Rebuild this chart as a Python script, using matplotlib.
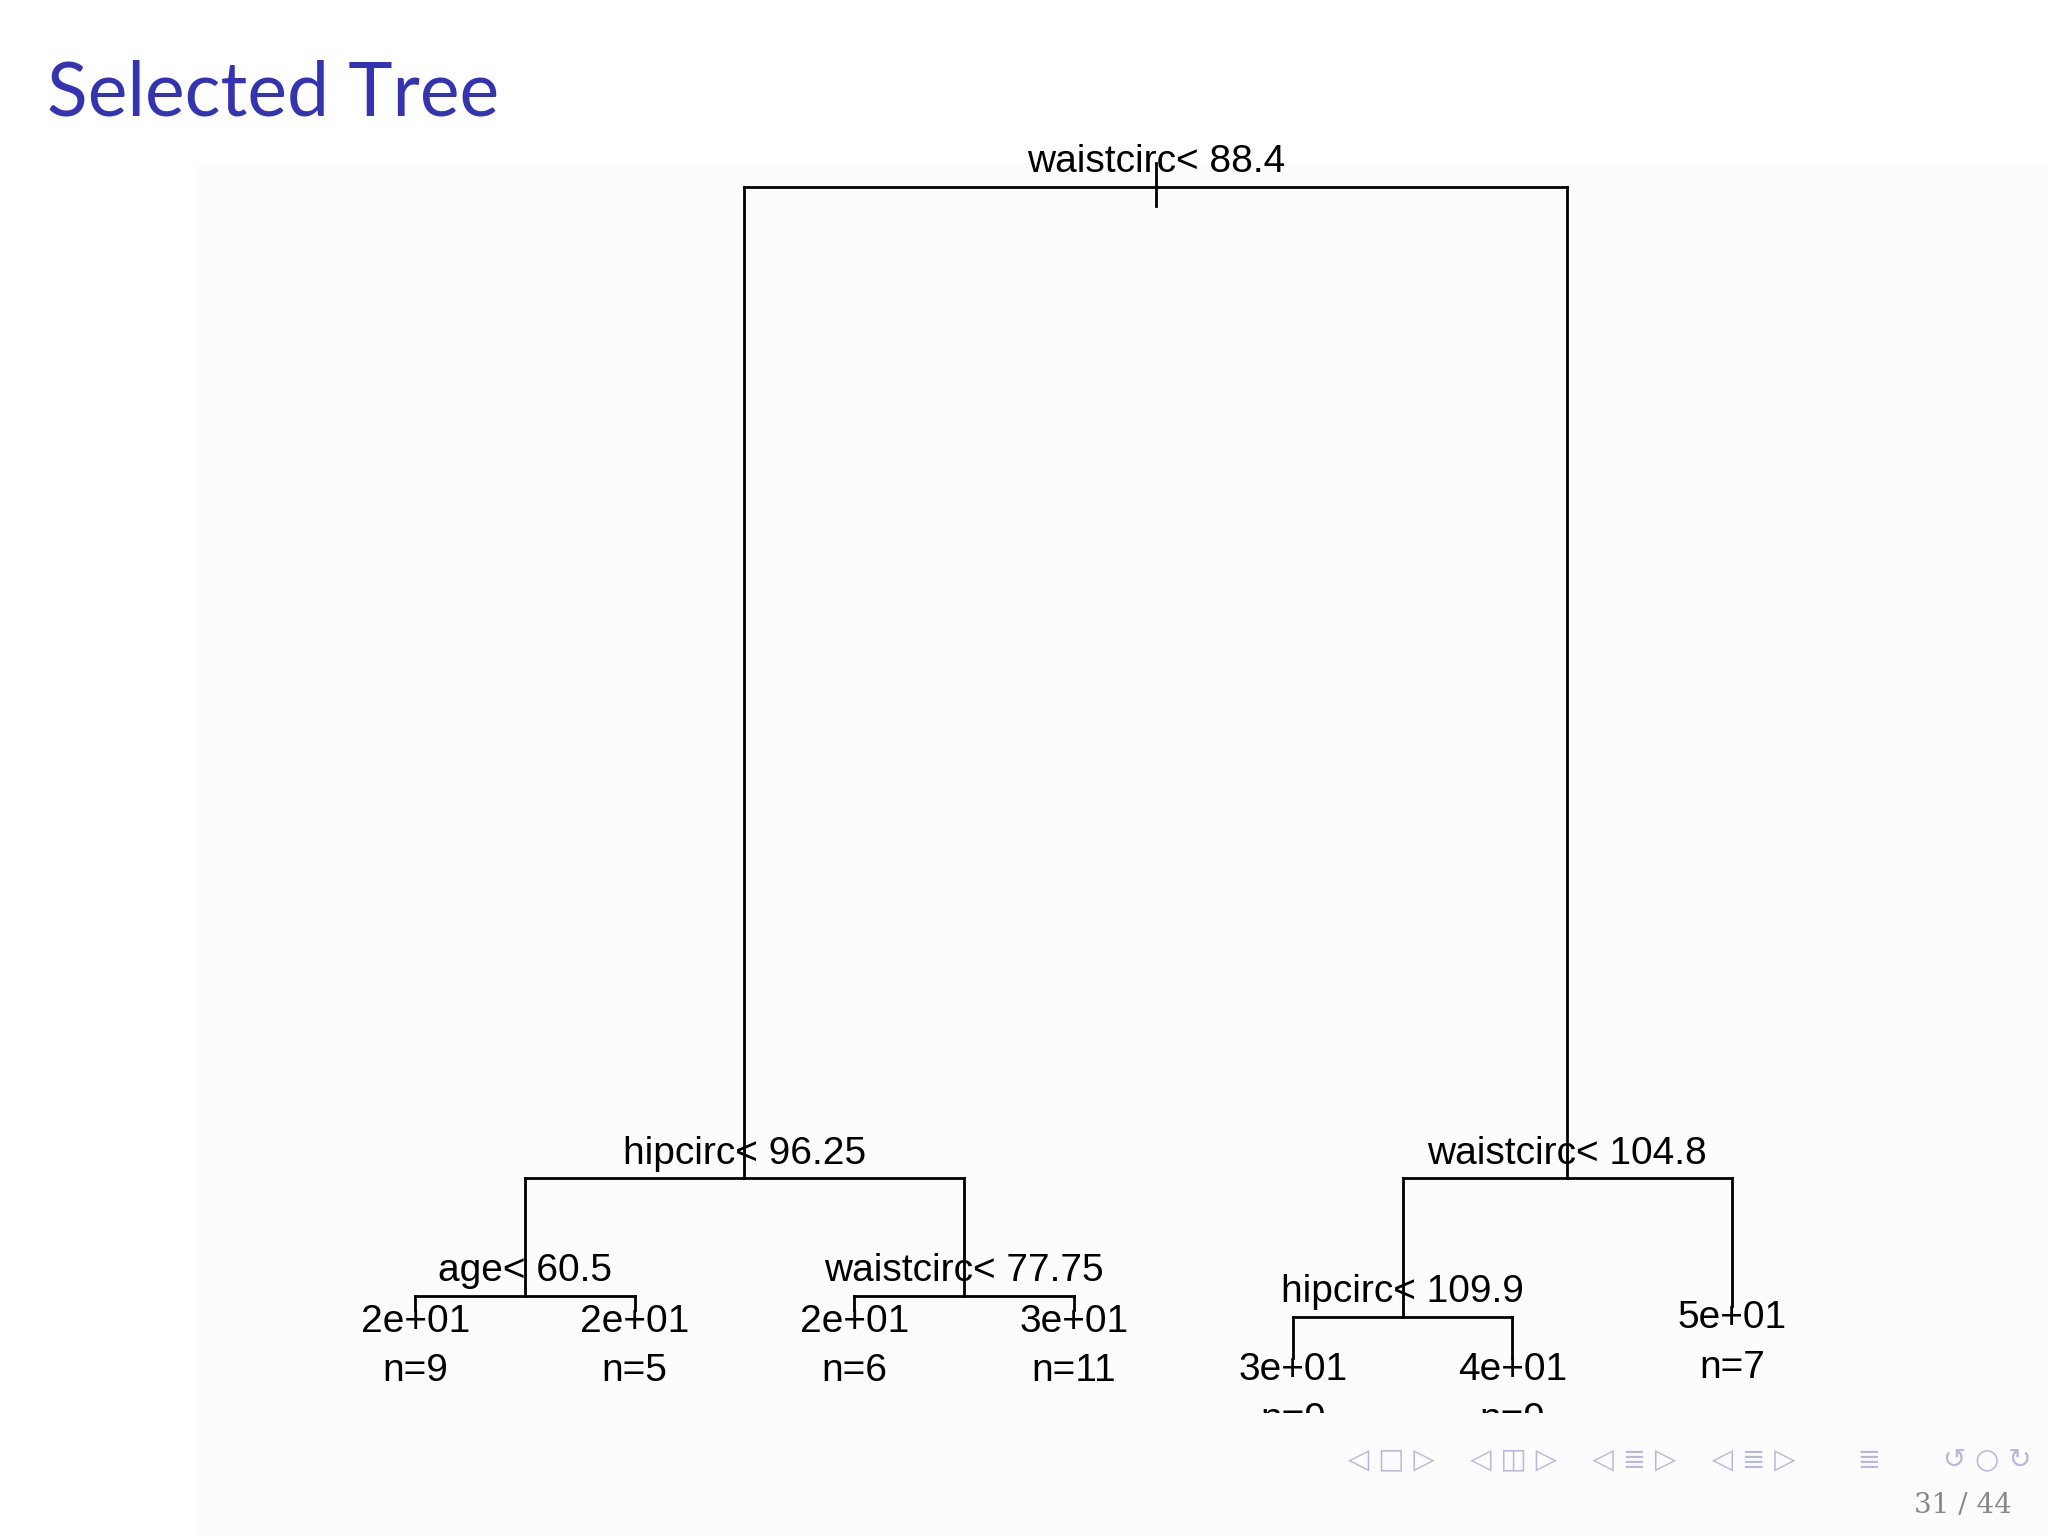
import matplotlib
matplotlib.use("Agg")
import matplotlib.pyplot as plt
from matplotlib.patches import Rectangle

# tree data
split_labels = ["waistcirc< 88.4", "hipcirc< 96.25", "age< 60.5", "waistcirc< 77.75",
                "waistcirc< 104.8", "hipcirc< 109.9"]
leaf_values = ["2e+01", "2e+01", "2e+01", "3e+01", "3e+01", "4e+01", "5e+01"]
leaf_n = ["n=9", "n=5", "n=6", "n=11", "n=9", "n=9", "n=7"]
nodes = {
    "root": ("S0", "A", "B"),
    "A": ("S1", "C", "D"),
    "C": ("S2", "L0", "L1"),
    "D": ("S3", "L2", "L3"),
    "B": ("S4", "E", "L6"),
    "E": ("S5", "L4", "L5"),
}
node_y = {"root": 143, "A": 902, "B": 902, "C": 992, "D": 992, "E": 1008,
          "L0": 1003, "L1": 1003, "L2": 1003, "L3": 1003, "L4": 1040, "L5": 1040, "L6": 1000}

W, H = 1568, 1176
fig = plt.figure(figsize=(20.48, 15.36), dpi=100)
bg = fig.add_axes([0, 0, 1, 1]); bg.set_xlim(0, W); bg.set_ylim(H, 0); bg.axis("off")
bg.add_patch(Rectangle((150, 125), 1418, 1051, color="#fcfcfc", zorder=0))
bg.text(36, 72, "Selected Tree", color="#3333b3", fontsize=54, family="Lato", va="center", ha="left")
bg.text(1540, 1153, "31 / 44", color="#888888", fontsize=20, family="DejaVu Serif", ha="right", va="center")
nav = "◁ □ ▷    ◁ ◫ ▷    ◁ ≣ ▷    ◁ ≣ ▷       ≣       ↺ ○ ↻"
bg.text(1555, 1117, nav, color="#b8b8dd", fontsize=20, family="DejaVu Sans", ha="right", va="center")

TB = 1082
ax = fig.add_axes([0, 1 - TB / H, 1, TB / H]); ax.set_xlim(0, W); ax.set_ylim(TB, 0); ax.axis("off")

xpos = {}
def getx(k):
    if k.startswith("L"):
        return 318 + 168 * int(k[1:])
    if k not in xpos:
        _, l, r = nodes[k]
        xpos[k] = (getx(l) + getx(r)) / 2
    return xpos[k]

fs = 28
fam = ["Liberation Sans", "DejaVu Sans"]
lw = 2
for k, (s, l, r) in nodes.items():
    x = getx(k); y = node_y[k]
    xl, xr = getx(l), getx(r)
    ax.plot([xl, xr], [y, y], color="black", lw=lw)
    for c in (l, r):
        ax.plot([getx(c), getx(c)], [y, node_y[c]], color="black", lw=lw)
    ax.text(x, y - 5, split_labels[int(s[1:])], fontsize=fs, family=fam, ha="center", va="bottom", clip_on=True)
ax.plot([getx("root")] * 2, [125, 158], color="black", lw=lw)
for i in range(7):
    k = f"L{i}"
    x = getx(k); y = node_y[k]
    ax.text(x, y + 9, leaf_values[i], fontsize=fs, family=fam, ha="center", va="center", clip_on=True)
    ax.text(x, y + 47, leaf_n[i], fontsize=fs, family=fam, ha="center", va="center", clip_on=True)
fig.savefig("out.png", dpi=100, facecolor="white")
